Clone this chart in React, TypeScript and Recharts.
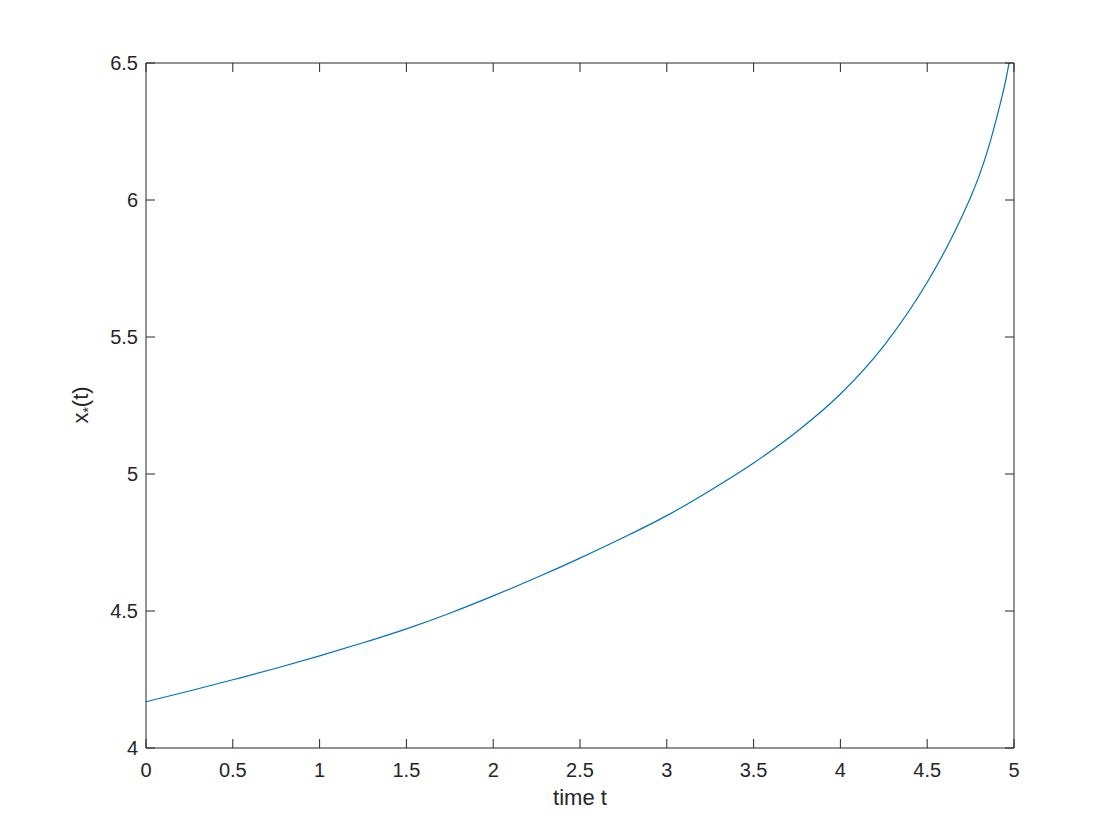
import React from 'react';
import { LineChart, Line, XAxis, YAxis } from 'recharts';

const timeT = [0, 0.25, 0.5, 0.75, 1, 1.25, 1.5, 1.75, 2, 2.25, 2.5, 2.75, 3, 3.25, 3.5, 3.75, 4, 4.25, 4.5, 4.625, 4.7, 4.75, 4.8, 4.85, 4.9, 4.95, 5];
const xStar = [4.169, 4.208, 4.249, 4.291, 4.336, 4.384, 4.435, 4.492, 4.555, 4.622, 4.693, 4.768, 4.848, 4.94, 5.04, 5.155, 5.292, 5.468, 5.70, 5.842, 5.94, 6.01, 6.09, 6.185, 6.3, 6.43, 6.6];
const xTicks = [0, 0.5, 1, 1.5, 2, 2.5, 3, 3.5, 4, 4.5, 5];
const yTicks = [4, 4.5, 5, 5.5, 6, 6.5];

const data = timeT.map((t, i) => ({ t, x: xStar[i] }));

const FONT = '"Liberation Sans", Arial, Helvetica, sans-serif';
const TXT = '#262626';
const AX = '#262626';

const fmt = (v: number) => String(v);
const blank = () => '';

export default function App() {
  return (
    <div style={{ position: 'absolute', left: 0, top: 0, width: 1120, height: 840, background: '#fff' }}>
      <LineChart
        width={1120}
        height={840}
        data={data}
        margin={{ top: 63, right: 106, bottom: 52, left: 86 }}
        style={{ fontFamily: FONT }}
      >
        {/* bottom axis: labels */}
        <XAxis
          dataKey="t"
          type="number"
          domain={[0, 5]}
          ticks={xTicks}
          tickFormatter={fmt}
          height={40}
          stroke={AX}
          tickSize={0}
          tickMargin={15}
          tickLine={false}
          tick={{ fill: TXT, fontSize: 20, fontFamily: FONT }}
          axisLine={{ stroke: AX, strokeWidth: 1 }}
          label={{
            content: (props: any) => {
              const vb = props.viewBox || {};
              return (
                <text x={vb.x + vb.width / 2} y={vb.y + 57} textAnchor="middle" fill={TXT} fontSize={22} fontFamily={FONT}>
                  time t
                </text>
              );
            },
          }}
        />
        {/* bottom axis: inward tick marks */}
        <XAxis
          xAxisId="bt"
          orientation="bottom"
          dataKey="t"
          type="number"
          domain={[0, 5]}
          ticks={xTicks}
          mirror
          height={30}
          tickFormatter={blank}
          tickSize={9}
          stroke={AX}
          axisLine={false}
          tickLine={{ stroke: AX, strokeWidth: 1 }}
        />
        {/* top box edge */}
        <XAxis
          xAxisId="top"
          orientation="top"
          dataKey="t"
          type="number"
          domain={[0, 5]}
          ticks={xTicks}
          mirror
          height={30}
          tickFormatter={blank}
          tickSize={9}
          stroke={AX}
          axisLine={{ stroke: AX, strokeWidth: 1 }}
          tickLine={{ stroke: AX, strokeWidth: 1 }}
        />
        {/* left axis: labels */}
        <YAxis
          type="number"
          domain={[4, 6.5]}
          ticks={yTicks}
          allowDataOverflow
          tickFormatter={fmt}
          width={60}
          stroke={AX}
          tickSize={0}
          tickMargin={8}
          tickLine={false}
          tick={{ fill: TXT, fontSize: 20, fontFamily: FONT }}
          axisLine={{ stroke: AX, strokeWidth: 1 }}
          label={{
            content: () => (
              <text
                x={88}
                y={405}
                transform="rotate(-90, 88, 405)"
                textAnchor="middle"
                fill={TXT}
                fontSize={22}
                fontFamily={FONT}
              >
                x
                <tspan fontSize={14} dy={5}>*</tspan>
                <tspan dy={-5}>(t)</tspan>
              </text>
            ),
          }}
        />
        {/* left axis: inward tick marks */}
        <YAxis
          yAxisId="lt"
          orientation="left"
          type="number"
          domain={[4, 6.5]}
          ticks={yTicks}
          allowDataOverflow
          mirror
          width={30}
          tickFormatter={blank}
          tickSize={9}
          stroke={AX}
          axisLine={false}
          tickLine={{ stroke: AX, strokeWidth: 1 }}
        />
        {/* right box edge */}
        <YAxis
          yAxisId="right"
          orientation="right"
          type="number"
          domain={[4, 6.5]}
          ticks={yTicks}
          allowDataOverflow
          mirror
          width={30}
          tickFormatter={blank}
          tickSize={9}
          stroke={AX}
          axisLine={{ stroke: AX, strokeWidth: 1 }}
          tickLine={{ stroke: AX, strokeWidth: 1 }}
        />
        <Line
          type="monotone"
          dataKey="x"
          stroke="#0072BD"
          strokeWidth={1.2}
          dot={false}
          activeDot={false}
          isAnimationActive={false}
        />
      </LineChart>
    </div>
  );
}
